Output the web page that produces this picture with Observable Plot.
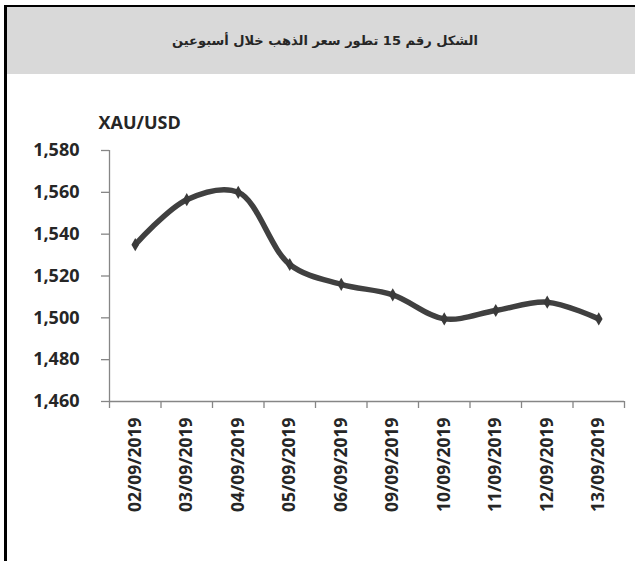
<!DOCTYPE html>
<html>
<head>
<meta charset="utf-8">
<script src="https://cdn.jsdelivr.net/npm/d3@7"></script>
<script src="https://cdn.jsdelivr.net/npm/@observablehq/plot@0.6"></script>
<style>
  html, body { margin: 0; padding: 0; background: #fff; }
  #frame { position: absolute; left: 4px; top: 5px; width: 631px; height: 556px; border-left: 3px solid #000; border-top: 2px solid #000; box-sizing: border-box; overflow: hidden; }
  #title { height: 67px; width: 628px; background: #d9d9d9; display: flex; align-items: center; justify-content: center; padding-left: 8px; box-sizing: border-box;
           font-family: "DejaVu Sans", sans-serif; font-weight: bold; font-size: 13px; color: #262626; }
  #chart svg { display: block; }
</style>
</head>
<body>
<div id="frame">
  <div id="title" dir="rtl"></div>
  <div id="chart"></div>
</div>
<script>
const titleText = "الشكل رقم 15 تطور سعر الذهب خلال أسبوعين";
const yLabel = "XAU/USD";
const dates = ["02/09/2019", "03/09/2019", "04/09/2019", "05/09/2019", "06/09/2019",
               "09/09/2019", "10/09/2019", "11/09/2019", "12/09/2019", "13/09/2019"];
const prices = [1535, 1556.5, 1560, 1525.5, 1516, 1511, 1499.5, 1503.5, 1507.5, 1499.5];
const yTicks = [1460, 1480, 1500, 1520, 1540, 1560, 1580];

document.getElementById("title").textContent = titleText;

const data = dates.map((d, i) => ({pos: i + 0.5, date: d, price: prices[i]}));
const axisColor = "#868686";
const textColor = "#262626";
const font = {fontFamily: "Open Sans", fontWeight: "bold", fontSize: 18};
const dateFont = {fontFamily: "Open Sans", fontWeight: "bold", fontSize: 17.5};

const chart = Plot.plot({
  width: 628,
  height: 487,
  marginLeft: 102,
  marginRight: 11,
  marginTop: 76,
  marginBottom: 160,
  x: {domain: [0, dates.length], axis: null},
  y: {domain: [yTicks[0], yTicks[yTicks.length - 1]], axis: null},
  style: {fontFamily: "Open Sans", fontWeight: "bold", fontSize: "18px", color: textColor, background: "white"},
  marks: [
    Plot.axisY({ticks: yTicks, tickFormat: d3.format(","), tickSize: 8, tickPadding: 22,
                stroke: axisColor, strokeWidth: 1.3, fill: textColor, label: null, ...font}),
    Plot.axisX({ticks: d3.range(0, dates.length + 1), tickFormat: () => "", tickSize: 7,
                stroke: axisColor, strokeWidth: 1.3, label: null}),
    Plot.axisX({ticks: data.map(d => d.pos), tickFormat: p => dates[Math.floor(p)], tickSize: 0,
                tickRotate: -90, tickPadding: 16, fill: textColor, label: null, ...dateFont}),
    Plot.ruleX([0], {stroke: axisColor, strokeWidth: 1.3}),
    Plot.ruleY([yTicks[0]], {stroke: axisColor, strokeWidth: 1.3}),
    Plot.line(data, {x: "pos", y: "price", curve: "catmull-rom", stroke: "#404040", strokeWidth: 5.5, strokeLinejoin: "round"}),
    Plot.dot(data, {x: "pos", y: "price", symbol: "diamond", r: 4, fill: "#3a3a3a"}),
    Plot.text([yLabel], {frameAnchor: "top-left", textAnchor: "start", lineAnchor: "middle", dx: -11, dy: -27,
                         fill: textColor, ...font})
  ]
});
document.getElementById("chart").appendChild(chart);
</script>
</body>
</html>
